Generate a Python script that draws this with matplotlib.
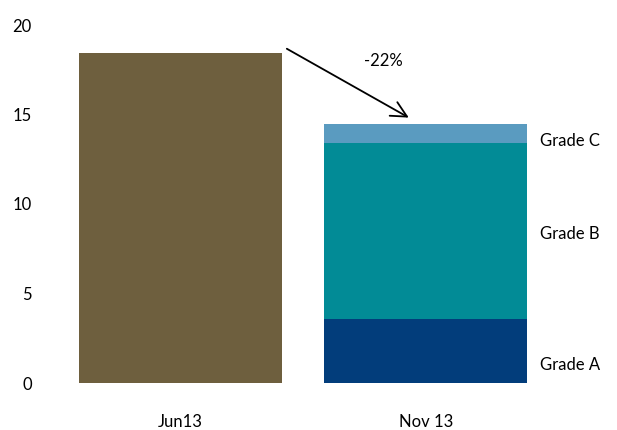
import matplotlib.pyplot as plt

categories = ["Jun13", "Nov 13"]
jun_total = 18.45
grades = ["Grade A", "Grade B", "Grade C"]
nov_values = [3.6, 9.8, 1.05]
grade_colors = ["#023d7b", "#028b96", "#5a9bc0"]
change_label = "-22%"

plt.rcParams['font.family'] = ['Lato', 'DejaVu Sans']

fig = plt.figure(figsize=(6.17, 4.30), dpi=100)
ax = fig.add_axes([40 / 617, 47 / 430, 520 / 617, 358 / 430])

w = 0.827
ax.bar(0, jun_total, width=w, color="#6e5f3e")

bottom = 0
for g, v, c in zip(grades, nov_values, grade_colors):
    ax.bar(1, v, width=w, bottom=bottom, color=c)
    bottom += v

# grade labels to the right of the stacked bar
label_y = [1.0, 8.3, 13.5]
for g, y in zip(grades, label_y):
    ax.text(1 + w / 2 + 0.05, y, g, fontsize=12, va="center", ha="left")

nov_total = sum(nov_values)
ax.annotate("", xy=(0.94, nov_total + 0.3), xytext=(w / 2 + 0.01, jun_total + 0.3),
            arrowprops=dict(arrowstyle="->", color="black", lw=1.3,
                            mutation_scale=28))
ax.text(0.825, 18.0, change_label, fontsize=12, ha="center", va="center")

ax.set_xlim(-0.572, 1.546)
ax.set_ylim(0, 20)
ax.set_yticks([0, 5, 10, 15, 20])
ax.set_xticks([0, 1])
ax.set_xticklabels(categories)
ax.tick_params(axis="y", length=0, pad=6, labelsize=12)
ax.tick_params(axis="x", length=0, pad=22, labelsize=12)
for s in ax.spines.values():
    s.set_visible(False)

plt.savefig("out.png", dpi=100)
